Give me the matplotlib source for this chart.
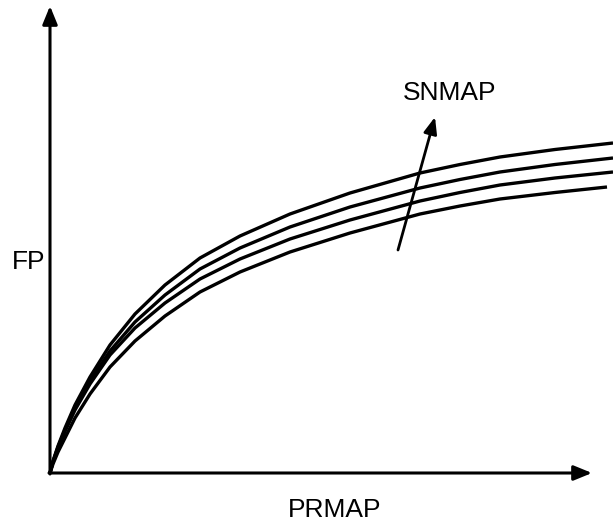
"""Schematic: FP against PRMAP for increasing SNMAP"""

import matplotlib.pyplot as plt

plt.rcParams["font.family"] = ["Liberation Sans", "DejaVu Sans"]

# Curves (x, y in drawing units from the origin).
prmap = [0, 3, 8, 15, 25, 40, 60, 85, 115, 150, 190, 240, 300, 370, 410,
         450, 505, 563]
fp_1 = [0, 12, 27, 45, 68, 96, 128, 159, 188, 215, 237, 259, 280, 300, 308.5,
        316, 323.5, 330]
fp_2 = [0, 11.5, 26, 43, 65, 92, 122, 151, 178, 204, 225, 246, 266, 285, 293.5,
        301, 308.5, 315]
fp_3 = [0, 11, 25, 41.5, 63, 89, 118, 145, 170, 194, 214, 234, 253, 272, 280.5,
        288, 295, 301]

prmap_4 = [0, 3, 8, 15, 25, 40, 60, 85, 115, 150, 190, 240, 300, 370, 410,
           450, 505, 557]
fp_4 = [0, 9, 21, 35, 55, 79, 106, 132, 157, 181, 201, 221, 240, 259, 267,
        274, 280.5, 286]

curves = [(prmap, fp_1), (prmap, fp_2), (prmap, fp_3), (prmap_4, fp_4)]

fig = plt.figure(figsize=(6.13, 5.27), dpi=100)
ax = fig.add_axes([50 / 613, 54 / 527, 563 / 613, 473 / 527])
ax.set_xlim(0, 563)
ax.set_ylim(0, 473)
ax.set_axis_off()

for x, y in curves:
    ax.plot(x, y, color="black", lw=2.4, solid_capstyle="butt",
            solid_joinstyle="round", clip_on=False)

# Axes drawn as arrows.
axis_arrow = dict(
    arrowstyle="-|>,head_length=1.1,head_width=0.45",
    color="black",
    lw=2.2,
    mutation_scale=10,
    shrinkA=0,
    shrinkB=0,
)
ax.annotate("", xy=(0, 467), xytext=(0, -1), arrowprops=axis_arrow,
            annotation_clip=False)
ax.annotate("", xy=(542, 0), xytext=(-1, 0), arrowprops=axis_arrow,
            annotation_clip=False)

# SNMAP direction arrow.
ax.annotate(
    "",
    xy=(385, 356),
    xytext=(348, 223),
    arrowprops=dict(
        arrowstyle="-|>,head_length=1.0,head_width=0.4",
        color="black",
        lw=2.0,
        mutation_scale=10,
        shrinkA=0,
        shrinkB=0,
    ),
)

ax.text(400, 380, "SNMAP", fontsize=19, ha="center", va="center")
ax.text(-21, 211, "FP", fontsize=19, ha="center", va="center")
ax.text(285, -37, "PRMAP", fontsize=19, ha="center", va="center")

fig.savefig("out.png", dpi=100)
